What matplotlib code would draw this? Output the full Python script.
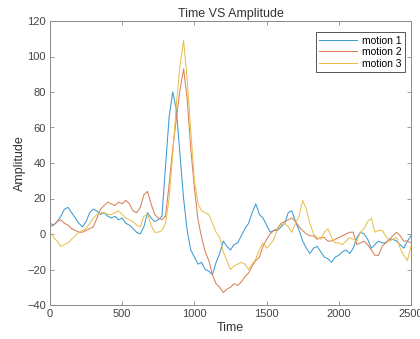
import numpy as np
import matplotlib
matplotlib.use("Agg")
import matplotlib.pyplot as plt

# time axis (step 25)
time = np.arange(0, 2501, 25)

motion1 = [6, 5, 7, 10, 14, 15, 12, 9, 6, 4,
           7, 12, 14, 13, 11, 12, 10, 9, 10, 8,
           9, 6, 5, 3, 1, 0, 4, 12, 9, 7,
           8, 10, 38, 66, 80, 70, 45, 20, 2, -9,
           -13, -17, -16, -20, -21, -23, -16, -11, -4, -7,
           -9, -6, -5, -1, 3, 6, 12, 17, 11, 9,
           5, 1, 2, 2, 4, 6, 12, 13, 7, 2,
           -4, -8, -11, -8, -7, -10, -13, -14, -16, -13,
           -12, -10, -9, -11, -8, -2, 1, 0, -3, -8,
           -6, -4, -5, -5, -3, -3, -4, -6, -8, -4,
           -1]

motion2 = [4, 5, 7, 8, 6, 5, 3, 2, 1, 1,
           2, 3, 4, 9, 14, 16, 18, 17, 16, 18,
           17, 19, 17, 13, 12, 15, 22, 24, 17, 11,
           9, 8, 10, 28, 48, 65, 81, 93, 76, 48,
           26, 8, -2, -10, -15, -23, -28, -30, -33, -31,
           -30, -28, -29, -27, -24, -22, -18, -15, -13, -7,
           -3, 0, 2, 3, 6, 7, 8, 9, 7, 4,
           2, 0, -1, -1, -3, -2, -2, -4, -4, -3,
           -2, -1, 0, 1, 1, -6, -5, -4, -6, -9,
           -12, -12, -7, -5, -3, -1, 1, -1, -4, -4,
           -5]

motion3 = [1, -2, -4, -7, -6, -5, -3, -1, 1, 2,
           3, 6, 9, 11, 12, 12, 11, 11, 12, 13,
           11, 9, 8, 7, 5, 4, 10, 11, 5, 1,
           1, 2, 6, 20, 45, 73, 95, 109, 87, 58,
           30, 17, 13, 12, 11, 6, 1, -2, -10, -15,
           -20, -18, -17, -16, -17, -20, -17, -14, -9, -5,
           -8, -6, -3, 3, 5, 6, 4, 1, 6, 10,
           19, 14, 6, 0, -2, -3, 1, 3, -2, -5,
           -5, -6, -4, -2, -3, -4, 1, 3, 7, 9,
           1, 2, 2, -1, -4, -3, -2, -8, -12, -15,
           -7]

labels = ["motion 1", "motion 2", "motion 3"]
colors = ["#3d9bd0", "#d98158", "#e9c04e"]

plt.rcParams['font.family'] = ['Liberation Sans', 'DejaVu Sans']

fig = plt.figure(figsize=(4.2, 3.39), dpi=100)
ax = fig.add_axes([50/420, 1 - 305/339, 361/420, 284/339])

for y, lab, c in zip([motion1, motion2, motion3], labels, colors):
    ax.plot(time, y, color=c, lw=0.75, label=lab)

ax.set_xlim(0, 2500)
ax.set_ylim(-40, 120)
ax.set_xticks([0, 500, 1000, 1500, 2000, 2500])
ax.set_yticks(range(-40, 121, 20))

for s in ax.spines.values():
    s.set_color("#8a8a8a")
    s.set_linewidth(0.7)
ax.tick_params(direction="in", length=3, width=0.6, color="#8a8a8a",
               labelsize=8, labelcolor="#444444", top=True, right=True, pad=3)

ax.set_title("Time VS Amplitude", fontsize=9, color="#333333", pad=3)
ax.set_xlabel("Time", fontsize=9, color="#333333", labelpad=2)
ax.set_ylabel("Amplitude", fontsize=9, color="#333333", labelpad=1)

leg = ax.legend(loc="upper right", fontsize=7.5, handlelength=3.6, fancybox=False,
                framealpha=1, edgecolor="#555555", borderpad=0.3, labelspacing=0.15,
                handletextpad=0.5, bbox_to_anchor=(0.997, 0.978))
leg.get_frame().set_linewidth(0.7)

fig.savefig("out.png", dpi=100)
